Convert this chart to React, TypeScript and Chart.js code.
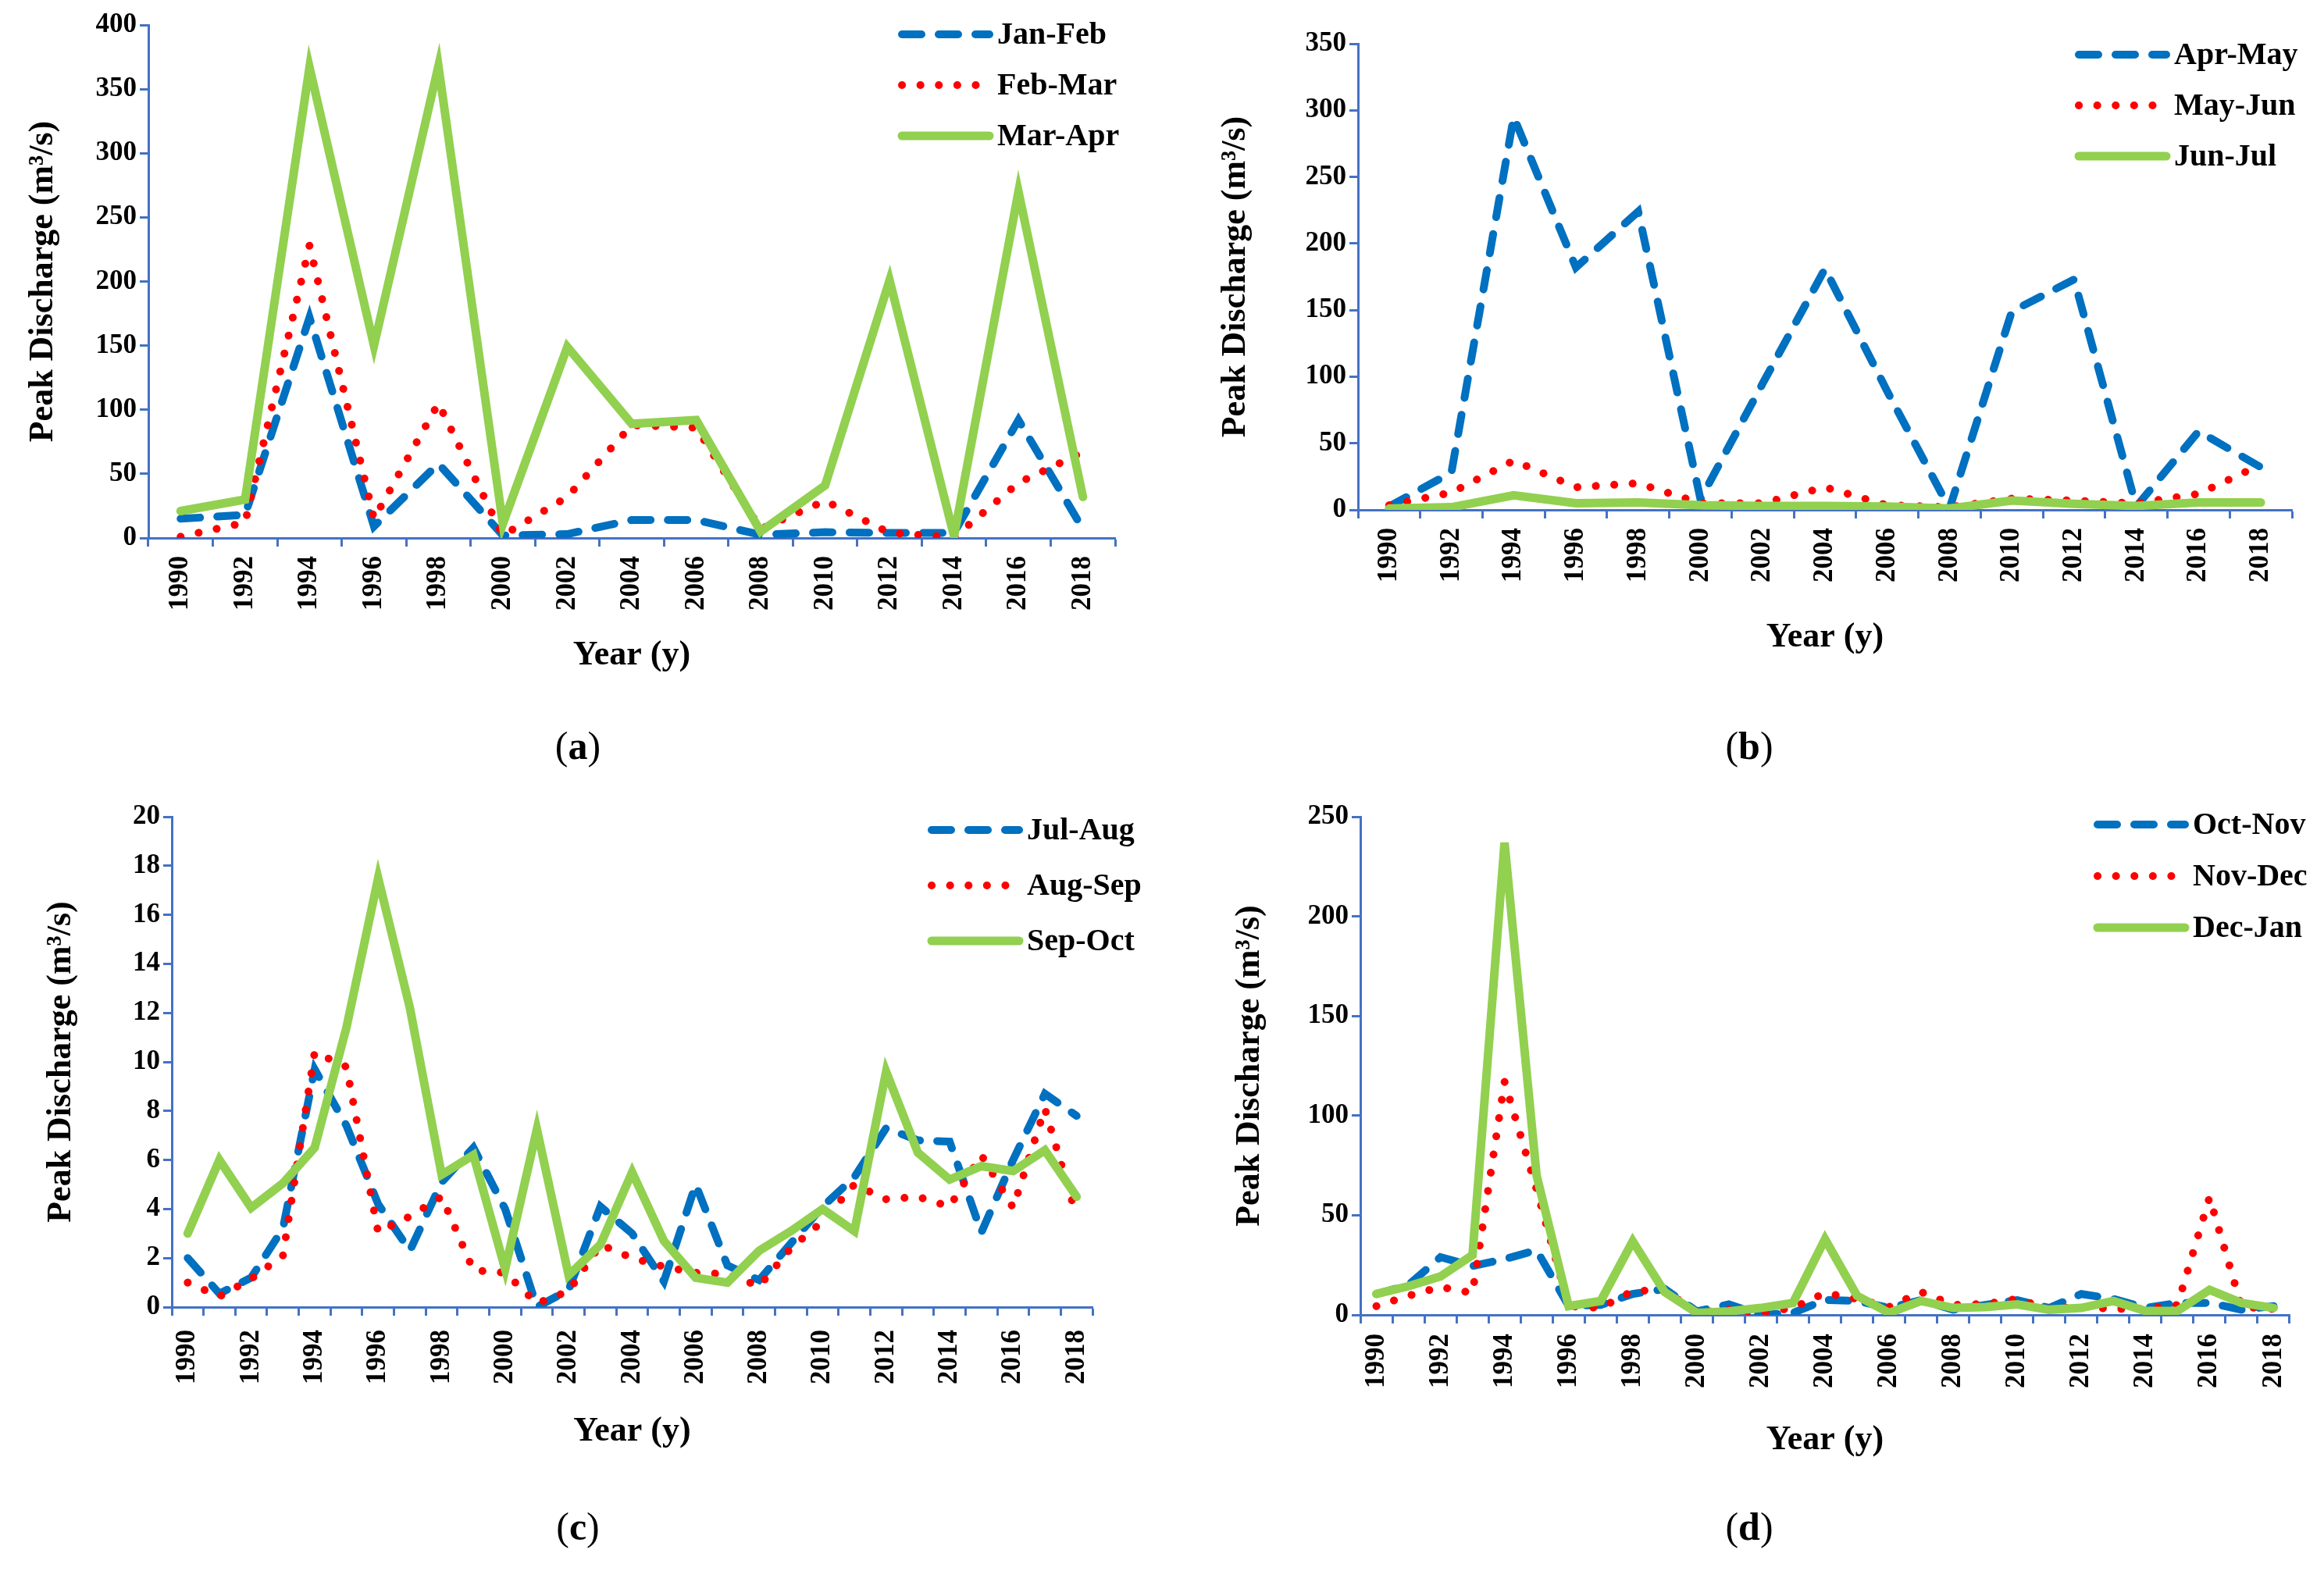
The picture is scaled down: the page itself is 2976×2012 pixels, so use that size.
import { useEffect, useRef } from "react";
import { Chart, registerables } from "chart.js";

Chart.register(...registerables);

const FONT = "'Liberation Serif', 'Times New Roman', serif";
const AXIS_BLUE = "#4472C4";

Chart.defaults.font.family = FONT;
Chart.defaults.color = "#000";

// categories
const yearsEven = ["1990", "1992", "1994", "1996", "1998", "2000", "2002", "2004", "2006", "2008", "2010", "2012", "2014", "2016", "2018"];
const yearsAll = [
  "1990", "1991", "1992", "1993", "1994", "1995", "1996", "1997", "1998", "1999",
  "2000", "2001", "2002", "2003", "2004", "2005", "2006", "2007", "2008", "2009",
  "2010", "2011", "2012", "2013", "2014", "2015", "2016", "2017", "2018",
];

// (a)
const janFeb = [15, 18, 172, 9, 58, 2, 3, 14, 14, 2.5, 4.5, 4, 4, 92, 7];
const febMar = [1, 12, 228, 15, 105, 2, 32, 88, 86, 7, 29, 4, 0.5, 43, 67];
const marApr = [21, 30, 367, 150, 368, 11, 149, 89, 92, 5, 41, 201, 1.5, 270, 32];

// (b)
const aprMay = [2.5, 28, 295, 182, 224, 8, 95, 181, 89, 1, 149, 173, 2.5, 59, 32];
const mayJun = [3.5, 13, 37, 17, 20, 5, 5, 17, 3.5, 2, 8.5, 7, 5, 12, 34];
const junJul = [1, 2, 11, 5, 5.5, 3.5, 3, 3, 2.5, 1, 7, 4.5, 3, 5.5, 5.5];

// (c)
const julAug = [2.0, 0.55, 1.2, 3.2, 9.7, 7.4, 4.2, 2.3, 5.1, 6.5, 4.0, 0.0, 0.7, 4.1, 3.0, 1.05, 5.0, 1.7, 1.1, 2.6, 4.1, 5.3, 7.3, 6.8, 6.75, 3.05, 6.0, 8.7, 7.8];
const augSep = [1.0, 0.43, 1.15, 2.1, 10.4, 9.8, 3.05, 3.7, 4.5, 1.5, 1.4, 0.15, 0.65, 2.55, 2.0, 1.65, 1.4, 1.35, 0.85, 2.4, 3.5, 5.0, 4.4, 4.5, 4.1, 6.2, 4.05, 8.1, 3.7];
const sepOct = [3.0, 6.0, 4.05, 5.05, 6.5, 11.4, 17.5, 12.2, 5.4, 6.2, 1.55, 7.25, 1.3, 2.55, 5.5, 2.7, 1.2, 1.0, 2.3, 3.1, 4.0, 3.1, 9.6, 6.3, 5.2, 5.75, 5.55, 6.4, 4.5];

// (d)
const octNov = [10.5, 15, 29, 24.5, 28, 32.5, 4.5, 5, 10.5, 13, 1.8, 5.3, 0, 1, 7.5, 7, 3.5, 7.4, 2.6, 5, 7.4, 3.5, 10.5, 8, 3.5, 6, 6, 2.6, 4.4];
const novDec = [4.4, 9.6, 14, 11, 117, 63, 4.4, 3.5, 12, 12.5, 1, 2.6, 1, 3.5, 11, 8, 4, 11.5, 5, 5.5, 8, 3, 4, 3, 3, 5, 59, 4, 3];
const decJan = [10.5, 14.4, 19.3, 30, 237, 70, 4.4, 7, 37, 11.4, 1, 1.8, 3.5, 6, 38, 9.6, 1, 7, 3.5, 3.9, 5.3, 2.6, 3.5, 7, 2, 2, 12.6, 6, 3.5];

const dashed = { borderColor: "#0070C0", borderWidth: 10, borderDash: [25, 22], borderCapStyle: "round", order: 3 };
const dotted = { borderColor: "#FF0000", borderWidth: 10, borderDash: [0.1, 23.5], borderCapStyle: "round", order: 2 };
const solid = { borderColor: "#92D050", borderWidth: 11, borderCapStyle: "round", order: 1 };

// legend drawn inside the plot, top right, like the Excel original
const insideLegend = {
  id: "insideLegend",
  afterDraw(chart: any, _args: any, opts: any) {
    const { ctx, chartArea } = chart;
    const x0 = chartArea.right + opts.dx;
    chart.data.datasets.forEach((ds: any, i: number) => {
      const y = chartArea.top + opts.dy + i * opts.gap;
      ctx.save();
      ctx.strokeStyle = ds.borderColor;
      ctx.lineWidth = ds.borderWidth;
      ctx.lineCap = ds.borderCapStyle || "butt";
      ctx.setLineDash(ds.borderDash || []);
      ctx.beginPath();
      ctx.moveTo(x0, y);
      ctx.lineTo(x0 + 112, y);
      ctx.stroke();
      ctx.setLineDash([]);
      ctx.fillStyle = "#000";
      ctx.font = `bold 40px ${FONT}`;
      ctx.textAlign = "left";
      ctx.textBaseline = "middle";
      ctx.fillText(ds.label, x0 + 122, y + 2);
      ctx.restore();
    });
  },
};

interface PanelProps {
  labels: string[];
  series: { label: string; data: number[]; style: any }[];
  yMax: number;
  yStep: number;
  everyOther: boolean;
  left: number;
  top: number;
  pad: { top: number; right: number; bottom: number };
  yWidth: number;
  yTitlePad: number;
  xHeight: number;
  xTickPad: number;
  legend: { dx: number; dy: number; gap: number };
}

function Panel(p: PanelProps) {
  const chartRef = useRef<HTMLCanvasElement>(null);
  useEffect(() => {
    if (!chartRef.current) return;
    const ctx = chartRef.current.getContext("2d") as CanvasRenderingContext2D;
    const tickFont = { size: 35, weight: "bold" as const };
    const titleFont = { size: 44, weight: "bold" as const };

    const chart = new Chart(ctx, {
      type: "line",
      data: {
        labels: p.labels,
        datasets: p.series.map((s) => ({
          label: s.label,
          data: s.data,
          pointRadius: 0,
          tension: 0,
          fill: false,
          ...s.style,
        })),
      },
      options: {
        animation: false,
        responsive: false,
        devicePixelRatio: 1,
        layout: { padding: { left: 0, top: p.pad.top, right: p.pad.right, bottom: p.pad.bottom } },
        plugins: {
          legend: { display: false },
          tooltip: { enabled: false },
          insideLegend: p.legend,
        } as any,
        scales: {
          x: {
            type: "category",
            offset: true,
            grid: { offset: true, drawOnChartArea: false, tickLength: 11, tickColor: AXIS_BLUE, tickWidth: 3 },
            border: { color: AXIS_BLUE, width: 3 },
            ticks: {
              autoSkip: false,
              minRotation: 90,
              maxRotation: 90,
              padding: p.xTickPad,
              color: "#000",
              font: tickFont,
              callback: (_v: any, i: number) => (p.everyOther && i % 2 ? "" : p.labels[i]),
            },
            title: { display: true, text: "Year (y)", color: "#000", font: titleFont, padding: { top: 0, bottom: 0 } },
            afterFit: (s: any) => {
              s.height = p.xHeight;
            },
          },
          y: {
            min: 0,
            max: p.yMax,
            grid: { drawOnChartArea: false, tickLength: 11, tickColor: AXIS_BLUE, tickWidth: 3 },
            border: { color: AXIS_BLUE, width: 3 },
            ticks: { stepSize: p.yStep, padding: 4, color: "#000", font: tickFont },
            title: {
              display: true,
              text: "Peak Discharge (m³/s)",
              color: "#000",
              font: titleFont,
              padding: { top: p.yTitlePad, bottom: 0 },
            },
            afterFit: (s: any) => {
              s.width = p.yWidth;
            },
          },
        },
      },
      plugins: [insideLegend],
    });

    return () => {
      chart.destroy();
    };
  }, [p]);

  return (
    <canvas
      ref={chartRef}
      width={1488}
      height={900}
      style={{ position: "absolute", left: p.left, top: p.top, width: 1488, height: 900 }}
    />
  );
}

function Caption({ x, y, letter }: { x: number; y: number; letter: string }) {
  return (
    <div
      style={{
        position: "absolute",
        left: x,
        top: y,
        transform: "translate(-50%, -50%)",
        fontFamily: FONT,
        fontSize: 50,
        color: "#000",
        lineHeight: 1,
      }}
    >
      (<b>{letter}</b>)
    </div>
  );
}

const panelA: PanelProps = {
  labels: yearsEven,
  series: [
    { label: "Jan-Feb", data: janFeb, style: dashed },
    { label: "Feb-Mar", data: febMar, style: dotted },
    { label: "Mar-Apr", data: marApr, style: solid },
  ],
  yMax: 400, yStep: 50, everyOther: false,
  left: 0, top: 0,
  pad: { top: 32, right: 60, bottom: 34 },
  yWidth: 190, yTitlePad: 29, xHeight: 177, xTickPad: 12,
  legend: { dx: -273, dy: 12, gap: 65 },
};

const panelB: PanelProps = {
  labels: yearsEven,
  series: [
    { label: "Apr-May", data: aprMay, style: dashed },
    { label: "May-Jun", data: mayJun, style: dotted },
    { label: "Jun-Jul", data: junJul, style: solid },
  ],
  yMax: 350, yStep: 50, everyOther: false,
  left: 1488, top: 0,
  pad: { top: 56, right: 41, bottom: 57 },
  yWidth: 251, yTitlePad: 68, xHeight: 190, xTickPad: 12,
  legend: { dx: -273, dy: 14, gap: 65 },
};

const panelC: PanelProps = {
  labels: yearsAll,
  series: [
    { label: "Jul-Aug", data: julAug, style: dashed },
    { label: "Aug-Sep", data: augSep, style: dotted },
    { label: "Sep-Oct", data: sepOct, style: solid },
  ],
  yMax: 20, yStep: 2, everyOther: true,
  left: 0, top: 1000,
  pad: { top: 46, right: 89, bottom: 40 },
  yWidth: 220, yTitlePad: 52, xHeight: 186, xTickPad: 18,
  legend: { dx: -206, dy: 17, gap: 71 },
};

const panelD: PanelProps = {
  labels: yearsAll,
  series: [
    { label: "Oct-Nov", data: octNov, style: dashed },
    { label: "Nov-Dec", data: novDec, style: dotted },
    { label: "Dec-Jan", data: decJan, style: solid },
  ],
  yMax: 250, yStep: 50, everyOther: true,
  left: 1488, top: 1000,
  pad: { top: 46, right: 44, bottom: 29 },
  yWidth: 254, yTitlePad: 86, xHeight: 187, xTickPad: 13,
  legend: { dx: -246, dy: 10, gap: 66 },
};

export default function App() {
  return (
    <div style={{ position: "absolute", left: 0, top: 0, width: 2976, height: 2012, background: "#fff", overflow: "hidden" }}>
      <Panel {...panelA} />
      <Panel {...panelB} />
      <Panel {...panelC} />
      <Panel {...panelD} />
      <Caption x={740} y={955} letter="a" />
      <Caption x={2240} y={955} letter="b" />
      <Caption x={740} y={1955} letter="c" />
      <Caption x={2240} y={1955} letter="d" />
    </div>
  );
}
